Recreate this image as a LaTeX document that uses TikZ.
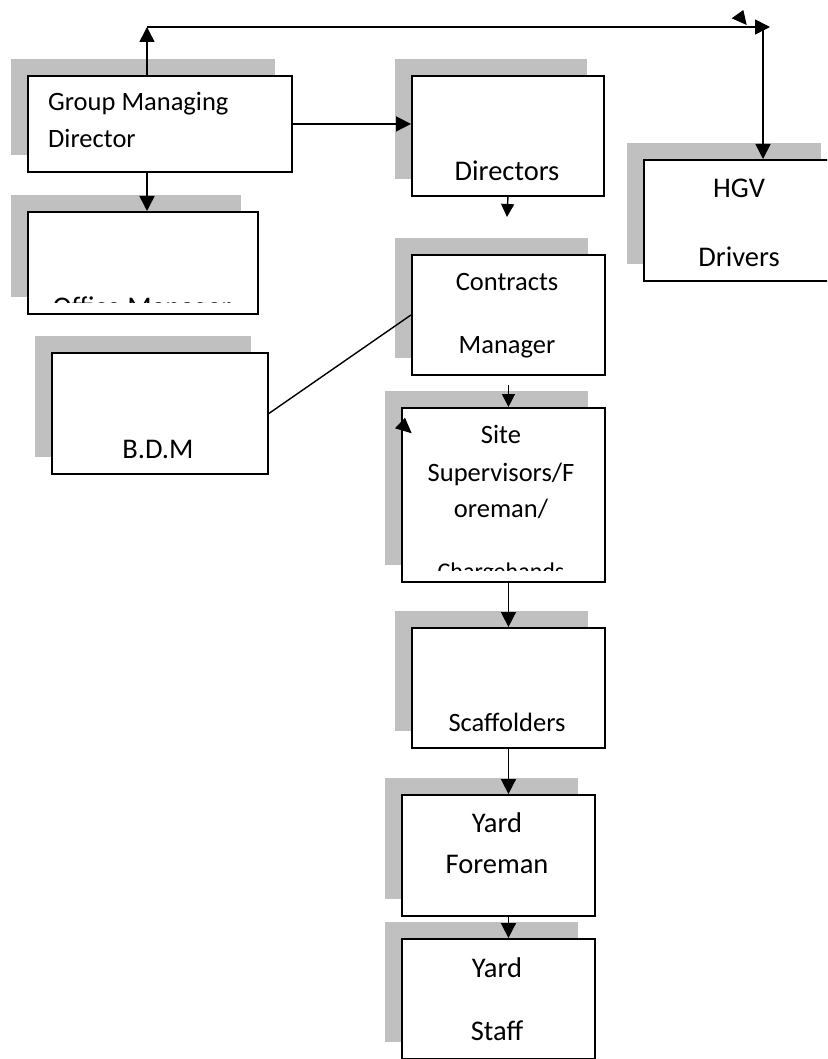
\documentclass[tikz,border=0pt]{standalone}
\usepackage{fontspec}
\setmainfont{Carlito}
\usetikzlibrary{arrows.meta,shadows,calc}
\definecolor{shadowgray}{RGB}{192,192,192}

\begin{document}
\begin{tikzpicture}[x=1pt,y=-1pt,
		box/.style={draw, line width=1.9pt, fill=white, anchor=north west, inner sep=0pt,
			general shadow={fill=shadowgray, shadow xshift=-17pt, shadow yshift=17pt}},
		txt/.style={anchor=base, inner sep=0pt, font=\fontsize{26.5}{32}\selectfont},
		bigtxt/.style={txt, font=\fontsize{28.5}{34}\selectfont},
		arr/.style={line width=1.6pt, -{Triangle[length=15pt,width=15pt]}},
		sarr/.style={line width=1.4pt, -{Triangle[length=13pt,width=13pt]}}]
			\clip (0, 0) rectangle (827, 1059);
			
			\node[box, minimum width=264pt, minimum height=96pt] (gmd) at (27, 75) {};
			\node[box, minimum width=230pt, minimum height=102pt] (office) at (27, 211) {};
			\node[box, minimum width=192pt, minimum height=120pt] (dirs) at (411, 75) {};
			\node[box, minimum width=194pt, minimum height=121pt] (hgv) at (643, 159) {};
			\node[box, minimum width=193pt, minimum height=120pt] (contracts) at (411, 254) {};
			\node[box, minimum width=216pt, minimum height=121pt] (bdm) at (51, 352) {};
			\node[box, minimum width=203pt, minimum height=174pt] (site) at (401, 407) {};
			\node[box, minimum width=193pt, minimum height=120pt] (scaff) at (411, 627) {};
			\node[box, minimum width=193pt, minimum height=121pt] (yfore) at (401, 794) {};
			\node[box, minimum width=193pt, minimum height=120pt] (ystaff) at (401, 938) {};
			
			\node[txt, anchor=base west] (gmd-a) at (48, 111) {Group Managing};
			\node[txt, anchor=base west] (gmd-b) at (48, 148) {Director};
			\node[bigtxt] (dirs-a) at (507, 181) {Directors};
			\node[bigtxt] (hgv-a) at (739, 198) {HGV};
			\node[bigtxt] (hgv-b) at (739, 266) {Drivers};
			\node[txt] (contracts-a) at (507, 290) {Contracts};
			\node[txt] (contracts-b) at (507, 353) {Manager};
			\node[bigtxt] (bdm-a) at (158, 458) {B.D.M};
			\node[txt] (site-a) at (501, 443) {Site};
			\node[txt] (site-b) at (501, 481) {Supervisors/F};
			\node[txt] (site-c) at (501, 517) {oreman/};
			\node[txt] (scaff-a) at (507, 731) {Scaffolders};
			\node[bigtxt] (yfore-a) at (497, 832) {Yard};
			\node[bigtxt] (yfore-b) at (497, 873) {Foreman};
			\node[bigtxt] (ystaff-a) at (497, 977) {Yard};
			\node[bigtxt] (ystaff-b) at (497, 1040) {Staff};
			
			\begin{scope}
				\clip (office.north west) rectangle ($(office.south east)+(0, -12)$);
				\node[bigtxt] (office-a) at (142, 316) {Office Manager};
			\end{scope}
			\begin{scope}
				\clip (site.north west) rectangle ($(site.south east)+(0, -12)$);
				\node[txt, font=\fontsize{24}{29}\selectfont] (site-d) at (501, 579) {Chargehands};
			\end{scope}
			
			\coordinate (up) at (147, 27);
			\coordinate (corner) at (763, 27);
			\coordinate (tip) at (770, 27);
			\coordinate (dirsend) at (507, 217);
			
			\draw[arr] (gmd.north west -| up) -- (up);
			\draw[arr] (up) -- (tip);
			\draw[arr] (corner) -- (hgv.north -| corner);
			\draw[arr] (gmd.south -| up) -- (office.north -| up);
			\draw[arr] (gmd.east) -- (dirs.west |- gmd.east);
			\draw[sarr] (dirs.south) -- (dirsend);
			\draw[sarr, shorten <=9pt] (contracts.south) -- (site.north -| contracts.south);
			\draw[line width=1.4pt] (bdm.east) -- (contracts.west);
			\draw[arr] (site.south -| scaff.north) -- (scaff.north);
			\draw[arr] (scaff.south) -- (yfore.north -| scaff.south);
			\draw[arr] (yfore.south -| scaff.south) -- (ystaff.north -| scaff.south);
			
			\fill (731.7, 18.3) -- (743.3, 10) -- (746.7, 25) -- cycle;
			\fill (395, 428.3) -- (405, 417.7) -- (411.7, 433.3) -- cycle;
		\end{tikzpicture}
\end{document}
